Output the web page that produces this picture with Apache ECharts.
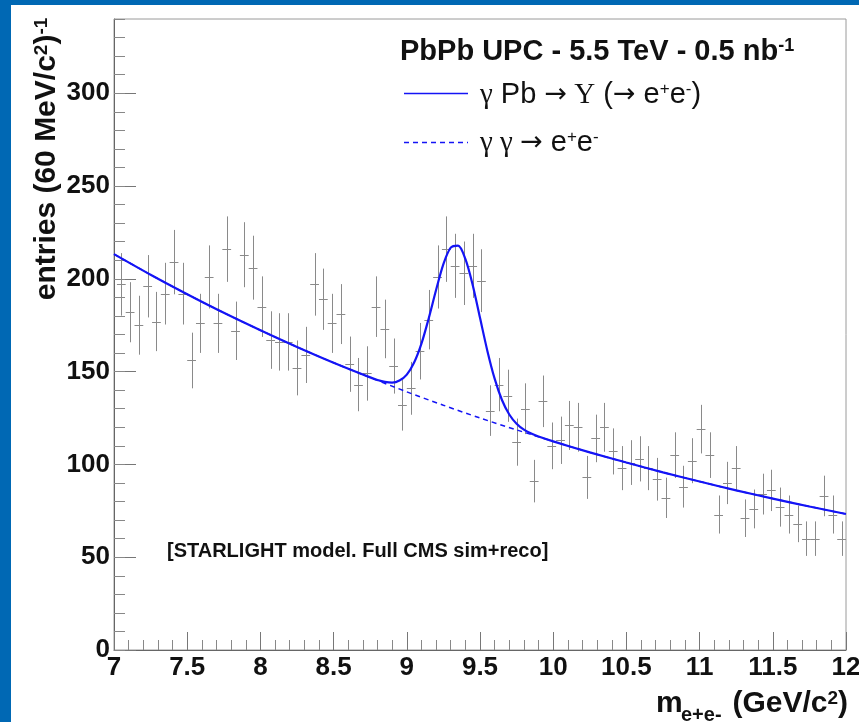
<!DOCTYPE html>
<html>
<head>
<meta charset="utf-8">
<script src="https://cdn.jsdelivr.net/npm/echarts@6.0.0/dist/echarts.min.js"></script>
<style>
  html, body { margin: 0; padding: 0; background: #0068b4; }
  #panel { position: absolute; left: 11px; top: 5px; width: 848px; height: 717px; background: #fff; }
  #chart { position: absolute; left: 0; top: 0; width: 859px; height: 722px; }
</style>
</head>
<body>
<div id="panel"></div>
<div id="chart"></div>
<script>
// binning of the histogram (60 MeV bins)
const BIN_FIRST = 7.05
const BIN_W = 0.06
const ERR_SCALE = 1.2 // weighted entries: error = 1.2 * sqrt(N)

// entries per bin
const entries = [
  197, 182, 175, 196, 177, 192, 209, 192, 156, 176,
  201, 176, 216, 172, 213, 206, 185, 167, 166, 166,
  152, 159, 197, 189, 176, 181, 154, 143, 149, 185,
  173, 153, 132, 141, 161, 178, 201, 216, 207, 203,
  207, 199, 129, 143, 137, 112, 130, 91, 134, 110,
  113, 121, 120, 93, 114, 120, 107, 98, 101, 103,
  98, 92, 82, 105, 88, 102, 119, 105, 73, 90,
  98, 71, 76, 84, 86, 77, 73, 68, 60, 60,
  83, 73, 60
]

// signal + background fit (solid)
const fitMass = [7.0, 7.25, 7.5, 7.75, 8.0, 8.25, 8.5, 8.75, 8.8, 8.85, 8.9, 8.95, 9.0, 9.05, 9.1, 9.15, 9.2, 9.25, 9.3, 9.35,
  9.4, 9.45, 9.5, 9.55, 9.6, 9.65, 9.7, 9.75, 9.8, 9.85, 9.9, 10.0, 10.25, 10.5, 10.75, 11.0, 11.25, 11.5, 11.75, 12.0]
const fitVal = [213.3, 202.2, 191.7, 181.7, 172.3, 163.3, 154.8, 146.9, 145.5, 144.5, 144.1, 145.2, 148.4, 154.9, 165.1, 178.8, 194.0, 207.9, 216.8, 217.9,
  210.7, 196.7, 179.0, 161.3, 146.2, 134.7, 126.9, 121.9, 118.7, 116.6, 115.0, 112.4, 106.5, 101.0, 95.7, 90.8, 86.0, 81.6, 77.3, 73.3]

// gamma gamma -> e+e- continuum (dashed)
const bgMass = [7.0, 7.25, 7.5, 7.75, 8.0, 8.25, 8.5, 8.75, 9.0, 9.25, 9.5, 9.75, 10.0, 10.25, 10.5, 10.75, 11.0, 11.25, 11.5, 11.75, 12.0]
const bgVal = [213.3, 202.2, 191.7, 181.7, 172.3, 163.3, 154.8, 146.8, 139.1, 131.9, 125.0, 118.6, 112.4, 106.5, 101.0, 95.7, 90.8, 86.0, 81.6, 77.3, 73.3]

const FONT = 'Liberation Sans'
const BLUE = '#1414f5'
const GREY = '#8a8a8a'

var points = []
for (var i = 0; i < entries.length; ++i) {
  var m = +(BIN_FIRST + BIN_W * i).toFixed(3)
  points.push([m, entries[i], ERR_SCALE * Math.sqrt(entries[i])])
}
var fitData = fitMass.map((m, i) => [m, fitVal[i]])
var bgData = bgMass.map((m, i) => [m, bgVal[i]])

var chart = echarts.init(document.getElementById('chart'), null, { renderer: 'canvas' })

function renderErrBar(params, api) {
  var x = api.value(0)
  var y = api.value(1)
  var e = api.value(2)
  var c = api.coord([x, y])
  var top = api.coord([x, y + e])
  var bot = api.coord([x, y - e])
  var l = api.coord([x - BIN_W / 2, y])
  var r = api.coord([x + BIN_W / 2, y])
  var st = { stroke: GREY, lineWidth: 1 }
  return {
    type: 'group',
    children: [
      { type: 'line', shape: { x1: Math.round(c[0]) + 0.5, y1: top[1], x2: Math.round(c[0]) + 0.5, y2: bot[1] }, style: st },
      { type: 'line', shape: { x1: l[0], y1: Math.round(c[1]) + 0.5, x2: r[0], y2: Math.round(c[1]) + 0.5 }, style: st }
    ]
  }
}

var labelStyle = { fontFamily: FONT, fontWeight: 'bold', fontSize: 26, color: '#111' }

chart.setOption({
  animation: false,
  backgroundColor: 'transparent',
  grid: {
    left: 114, right: 13, top: 19, bottom: 72,
    show: true, borderColor: '#9a9a9a', borderWidth: 1,
    outerBoundsMode: 'none'
  },
  xAxis: {
    type: 'value', min: 7, max: 12, interval: 0.5,
    axisLine: { lineStyle: { color: '#666' } },
    axisTick: { inside: true, length: 18, lineStyle: { color: '#777' } },
    minorTick: { show: true, splitNumber: 5, length: 10, lineStyle: { color: '#888' } },
    axisLabel: Object.assign({ margin: 5 }, labelStyle),
    splitLine: { show: false }
  },
  yAxis: [{
    type: 'value', min: 0, max: 340, interval: 50,
    axisLine: { show: true, lineStyle: { color: '#666' } },
    axisTick: { show: true, inside: true, length: 22, lineStyle: { color: '#777' } },
    axisLabel: Object.assign({ margin: 4, showMaxLabel: false }, labelStyle),
    splitLine: { show: false }
  }, {
    type: 'value', position: 'left', min: 0, max: 340, interval: 10,
    axisLine: { show: false },
    axisTick: { show: true, inside: true, length: 11, lineStyle: { color: '#888' } },
    axisLabel: { show: false },
    splitLine: { show: false }
  }],
  series: [{
    name: 'data',
    type: 'custom',
    renderItem: renderErrBar,
    data: points,
    encode: { x: 0, y: 1 },
    z: 2
  }, {
    name: 'bg',
    type: 'line',
    data: bgData,
    showSymbol: false,
    smooth: 0.3,
    lineStyle: { color: BLUE, width: 1.5, type: [5, 4] },
    z: 3
  }, {
    name: 'fit',
    type: 'line',
    data: fitData,
    showSymbol: false,
    smooth: 0.3,
    lineStyle: { color: BLUE, width: 2.2 },
    z: 4
  }],
  graphic: [
    // y axis title
    {
      type: 'text', x: 47, y: 159, rotation: Math.PI / 2,
      style: {
        text: '{m|entries (60 MeV/c}{s|2}{m|)}{s|-1}',
        align: 'center', verticalAlign: 'middle',
        rich: {
          m: { fontFamily: FONT, fontWeight: 'bold', fontSize: 30, fill: '#111' },
          s: { fontFamily: FONT, fontWeight: 'bold', fontSize: 19, fill: '#111', verticalAlign: 'top' }
        }
      }
    },
    // x axis title
    {
      type: 'text', x: 656, y: 704,
      style: { text: 'm', fontFamily: FONT, fontWeight: 'bold', fontSize: 30, fill: '#111', align: 'left', verticalAlign: 'middle' }
    },
    {
      type: 'text', x: 681, y: 715,
      style: { text: 'e+e-', fontFamily: FONT, fontWeight: 'bold', fontSize: 20, fill: '#111', align: 'left', verticalAlign: 'middle' }
    },
    {
      type: 'text', x: 848, y: 704,
      style: {
        text: '{m|(GeV/c}{s|2}{m|)}',
        align: 'right', verticalAlign: 'middle',
        rich: {
          m: { fontFamily: FONT, fontWeight: 'bold', fontSize: 30, fill: '#111' },
          s: { fontFamily: FONT, fontWeight: 'bold', fontSize: 19, fill: '#111', verticalAlign: 'top' }
        }
      }
    },
    // legend header
    {
      type: 'text', x: 400, y: 52,
      style: {
        text: '{m|PbPb UPC - 5.5 TeV - 0.5 nb}{s|-1}',
        align: 'left', verticalAlign: 'middle',
        rich: {
          m: { fontFamily: FONT, fontWeight: 'bold', fontSize: 29, fill: '#111' },
          s: { fontFamily: FONT, fontWeight: 'bold', fontSize: 18, fill: '#111', verticalAlign: 'top' }
        }
      }
    },
    // legend entries
    { type: 'line', shape: { x1: 404, y1: 93.5, x2: 468, y2: 93.5 }, style: { stroke: BLUE, lineWidth: 1.5 } },
    { type: 'line', shape: { x1: 404, y1: 142.5, x2: 468, y2: 142.5 }, style: { stroke: BLUE, lineWidth: 1.5, lineDash: [5, 4] } },
    {
      type: 'text', x: 480, y: 95,
      style: {
        text: '{g|\u03b3}{t| Pb }{a|\u2192}{g| \u03a5}{t| (}{a|\u2192}{t| e}{s|+}{t|e}{s|-}{t|)}',
        align: 'left', verticalAlign: 'middle',
        rich: {
          g: { fontFamily: 'Liberation Serif', fontSize: 29, fill: '#111' },
          a: { fontFamily: 'DejaVu Sans', fontSize: 27, fill: '#111' },
          t: { fontFamily: FONT, fontSize: 29, fill: '#111' },
          s: { fontFamily: FONT, fontSize: 17, fill: '#111', verticalAlign: 'top' }
        }
      }
    },
    {
      type: 'text', x: 480, y: 143,
      style: {
        text: '{g|\u03b3 \u03b3 }{a|\u2192}{t| e}{s|+}{t|e}{s|-}',
        align: 'left', verticalAlign: 'middle',
        rich: {
          g: { fontFamily: 'Liberation Serif', fontSize: 29, fill: '#111' },
          a: { fontFamily: 'DejaVu Sans', fontSize: 27, fill: '#111' },
          t: { fontFamily: FONT, fontSize: 29, fill: '#111' },
          s: { fontFamily: FONT, fontSize: 17, fill: '#111', verticalAlign: 'top' }
        }
      }
    },
    // annotation
    {
      type: 'text', x: 167, y: 551,
      style: { text: '[STARLIGHT model. Full CMS sim+reco]', fontFamily: FONT, fontWeight: 'bold', fontSize: 20, fill: '#111', align: 'left', verticalAlign: 'middle' }
    }
  ]
})
</script>
</body>
</html>
